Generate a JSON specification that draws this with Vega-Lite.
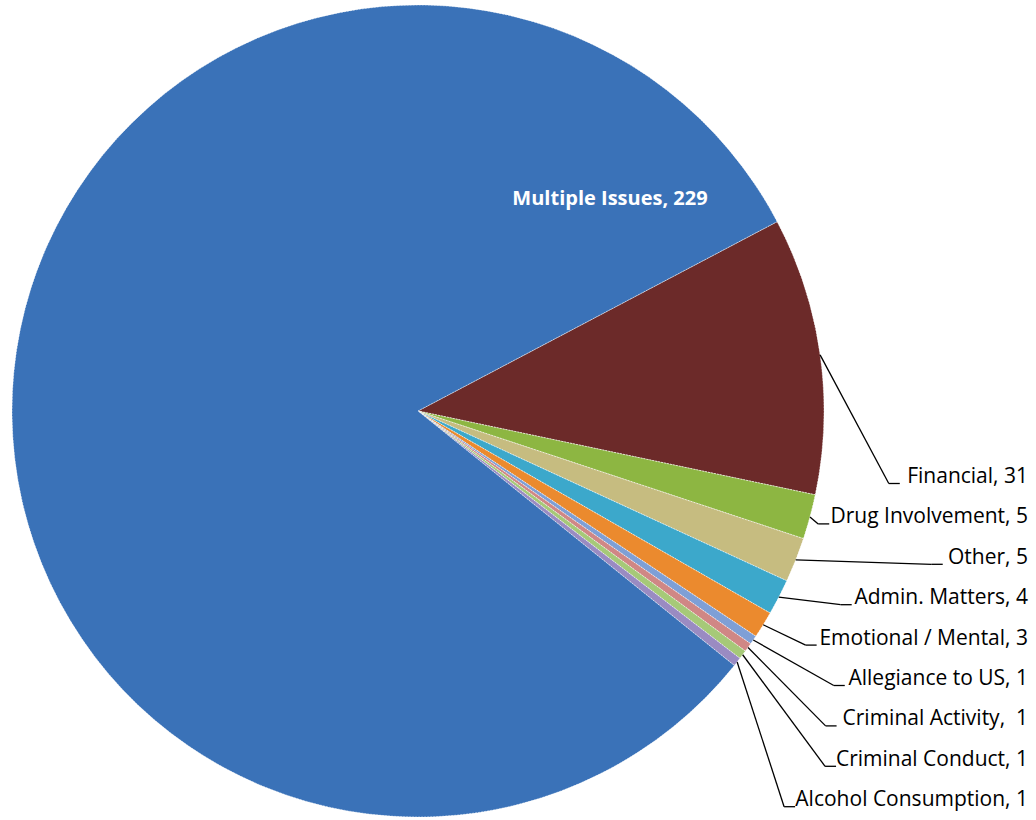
{
  "$schema": "https://vega.github.io/schema/vega-lite/v6.json",
  "width": 1016,
  "height": 812,
  "autosize": {"type": "none"},
  "padding": {"left": 12, "top": 5, "right": 8, "bottom": 3},
  "background": "#ffffff",
  "config": {"view": {"stroke": null}},
  "data": {
    "values": [
      {"order": 1, "category": "Financial", "value": 31, "label": "Financial, 31"},
      {"order": 2, "category": "Drug Involvement", "value": 5, "label": "Drug Involvement, 5"},
      {"order": 3, "category": "Other", "value": 5, "label": "Other, 5"},
      {"order": 4, "category": "Admin. Matters", "value": 4, "label": "Admin. Matters, 4"},
      {"order": 5, "category": "Emotional / Mental", "value": 3, "label": "Emotional / Mental, 3"},
      {"order": 6, "category": "Allegiance to US", "value": 1, "label": "Allegiance to US, 1"},
      {"order": 7, "category": "Criminal Activity", "value": 1, "label": "Criminal Activity, \u00a01"},
      {"order": 8, "category": "Criminal Conduct", "value": 1, "label": "Criminal Conduct, 1"},
      {"order": 9, "category": "Alcohol Consumption", "value": 1, "label": "Alcohol Consumption, 1"},
      {"order": 10, "category": "Multiple Issues", "value": 229, "label": "Multiple Issues, 229"}
    ]
  },
  "layer": [
    {
      "mark": {"type": "arc", "stroke": "#ffffff", "strokeWidth": 1, "strokeOpacity": 0.55, "strokeDash": [2, 1]},
      "encoding": {
        "x": {"datum": 0, "type": "quantitative", "scale": {"domain": [-1, 1.5025], "nice": false, "zero": false}, "axis": null},
        "y": {"datum": 0, "type": "quantitative", "scale": {"domain": [-1, 1], "nice": false, "zero": false}, "axis": null},
        "theta": {"field": "value", "type": "quantitative", "stack": true, "scale": {"range": [1.0856, 7.3688]}},
        "order": {"field": "order", "type": "quantitative"},
        "color": {
          "field": "category",
          "type": "nominal",
          "legend": null,
          "scale": {
            "domain": ["Financial", "Drug Involvement", "Other", "Admin. Matters", "Emotional / Mental", "Allegiance to US", "Criminal Activity", "Criminal Conduct", "Alcohol Consumption", "Multiple Issues"],
            "range": ["#6C2A29", "#8DB642", "#C6BC80", "#3CA8CB", "#EB8A2E", "#7E9FD6", "#D08785", "#A6C978", "#9A8BC2", "#3A72B8"]
          }
        }
      }
    },
    {
      "transform": [
        {"joinaggregate": [{"op": "sum", "field": "value", "as": "total"}]},
        {"stack": "value", "groupby": [], "sort": [{"field": "order", "order": "ascending"}], "as": ["v0", "v1"]},
        {"filter": "datum.order <= 9"},
        {"calculate": "1.0856 + ((datum.v0 + datum.v1) / 2) / datum.total * 2 * PI", "as": "mid"},
        {"calculate": "sin(datum.mid)", "as": "ex"},
        {"calculate": "cos(datum.mid)", "as": "ey"},
        {"calculate": "(411 - (477 + (datum.order - 1) * 40.4) - 6.5) / 406", "as": "ty"},
        {"calculate": "length(replace(datum.label, /[^ilI., \u00a0]/g, ''))", "as": "nn"},
        {"calculate": "length(replace(datum.label, /[^frt\\/]/g, ''))", "as": "nm"},
        {"calculate": "length(replace(datum.label, /[^mMO]/g, ''))", "as": "nw"},
        {"calculate": "21 * (0.255 * datum.nn + 0.37 * datum.nm + 0.88 * datum.nw + 0.58 * (length(datum.label) - datum.nn - datum.nm - datum.nw))", "as": "tw"},
        {"calculate": "1.5025 - (datum.tw + 15) / 406", "as": "tx1"}
      ],
      "mark": {"type": "rule", "color": "#000000", "strokeWidth": 1.3},
      "encoding": {
        "x": {"field": "ex", "type": "quantitative", "scale": {"domain": [-1, 1.5025], "nice": false, "zero": false}, "axis": null},
        "y": {"field": "ey", "type": "quantitative", "scale": {"domain": [-1, 1], "nice": false, "zero": false}, "axis": null},
        "x2": {"field": "tx1"},
        "y2": {"field": "ty"}
      }
    },
    {
      "transform": [
        {"filter": "datum.order <= 9"},
        {"calculate": "(411 - (477 + (datum.order - 1) * 40.4) - 6.5) / 406", "as": "ty"},
        {"calculate": "length(replace(datum.label, /[^ilI., \u00a0]/g, ''))", "as": "nn"},
        {"calculate": "length(replace(datum.label, /[^frt\\/]/g, ''))", "as": "nm"},
        {"calculate": "length(replace(datum.label, /[^mMO]/g, ''))", "as": "nw"},
        {"calculate": "21 * (0.255 * datum.nn + 0.37 * datum.nm + 0.88 * datum.nw + 0.58 * (length(datum.label) - datum.nn - datum.nm - datum.nw))", "as": "tw"},
        {"calculate": "1.5025 - (datum.tw + 15) / 406", "as": "tx1"},
        {"calculate": "1.5025 - (datum.tw + 4) / 406", "as": "tx2"}
      ],
      "mark": {"type": "rule", "color": "#000000", "strokeWidth": 1.3},
      "encoding": {
        "x": {"field": "tx1", "type": "quantitative", "scale": {"domain": [-1, 1.5025], "nice": false, "zero": false}, "axis": null},
        "y": {"field": "ty", "type": "quantitative", "scale": {"domain": [-1, 1], "nice": false, "zero": false}, "axis": null},
        "x2": {"field": "tx2"},
        "y2": {"field": "ty"}
      }
    },
    {
      "transform": [
        {"filter": "datum.order <= 9"},
        {"calculate": "(411 - (477 + (datum.order - 1) * 40.4)) / 406", "as": "ly"}
      ],
      "mark": {"type": "text", "align": "right", "baseline": "middle", "font": "Open Sans", "fontSize": 21, "color": "#000000"},
      "encoding": {
        "x": {"value": "width"},
        "y": {"field": "ly", "type": "quantitative", "scale": {"domain": [-1, 1], "nice": false, "zero": false}, "axis": null},
        "text": {"field": "label"}
      }
    },
    {
      "transform": [{"filter": "datum.order == 10"}],
      "mark": {"type": "text", "align": "center", "baseline": "middle", "font": "Open Sans", "fontSize": 20, "fontWeight": "bold", "color": "#ffffff"},
      "encoding": {
        "x": {"datum": 0.4729, "type": "quantitative", "scale": {"domain": [-1, 1.5025], "nice": false, "zero": false}, "axis": null},
        "y": {"datum": 0.5222, "type": "quantitative", "scale": {"domain": [-1, 1], "nice": false, "zero": false}, "axis": null},
        "text": {"field": "label"}
      }
    }
  ]
}
